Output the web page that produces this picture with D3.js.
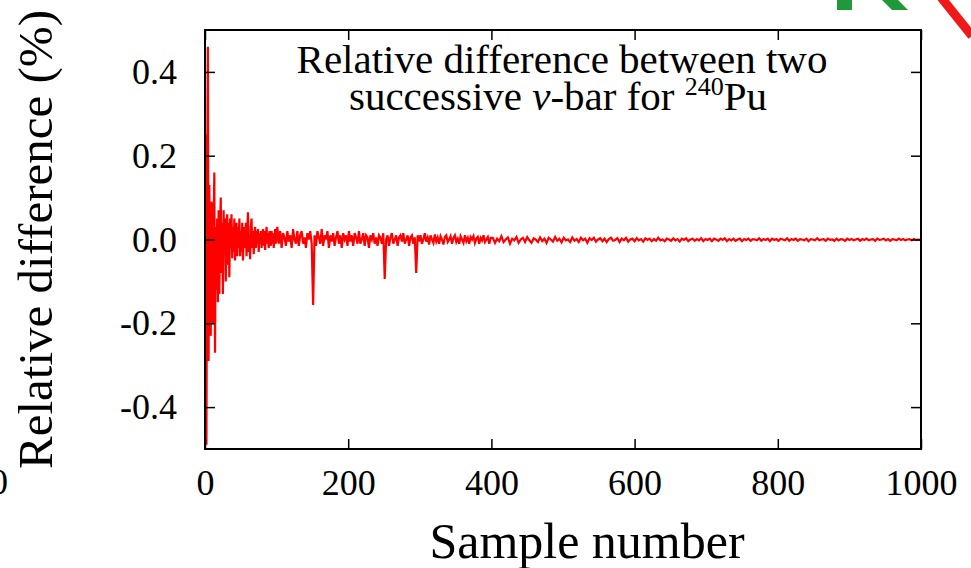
<!DOCTYPE html>
<html>
<head>
<meta charset="utf-8">
<script src="https://cdn.jsdelivr.net/npm/d3@7"></script>
<style>
    body { margin: 0; background: #fff; }
    svg { display: block; }
</style>
</head>
<body>
<div id="chart"></div>
<script>
// samples 1..100, one value per sample (%)
const earlyValues = [
    0.25, -0.49, 0.14, 0.46, -0.29, 0.13, -0.05, -0.23, 0.09, 0.08,
    -0.20, 0.02, 0.16, -0.27, 0.03, -0.12, 0.05, -0.15, 0.07, -0.13,
    0.02, 0.10, -0.08, 0.04, -0.13, 0.07, -0.03, 0.05, -0.10, 0.03,
    0.06, -0.06, 0.04, -0.09, 0.05, -0.02, 0.06, -0.045, 0.03, -0.03,
    0.05, -0.05, 0.02, 0.04, -0.04, 0.03, -0.02, 0.05, -0.04, 0.02,
    -0.03, 0.04, -0.05, 0.01, 0.03, -0.02, 0.04, -0.04, 0.02, 0.065,
    -0.03, 0.01, -0.047, 0.03, 0.05, -0.02, 0.02, -0.035, 0.01, 0.03,
    -0.02, 0.02, -0.01, 0.025, -0.03, 0.015, -0.01, 0.02, -0.02, 0.01,
    0.025, -0.015, 0.02, -0.025, 0.01, 0.03, -0.01, 0.015, -0.02, 0.02,
    0.005, -0.015, 0.02, -0.01, 0.015, -0.02, 0.01, 0.025, -0.01, 0.005
];

// samples 101..399, every 2nd sample
const midValues = [
    0.03, -0.01, 0.02, -0.02, 0.015, 0.005, -0.015, 0.02, -0.005, 0.01,
    -0.02, 0.025, 0.0, -0.01, 0.02, -0.015, 0.01, 0.02, -0.01, 0.005,
    -0.02, 0.015, 0.0, 0.02, -0.01, -0.156, 0.01, -0.015, 0.02, 0.005,
    -0.01, 0.025, -0.015, 0.01, 0.0, 0.02, -0.02, 0.01, -0.005, 0.015,
    -0.015, 0.005, 0.02, -0.01, 0.01, -0.02, 0.015, 0.0, 0.01, -0.015,
    0.02, -0.005, 0.01, -0.015, 0.015, 0.005, -0.01, 0.02, -0.01, 0.0,
    0.015, -0.015, 0.01, 0.005, -0.02, 0.01, 0.0, 0.015, -0.01, 0.005,
    -0.015, 0.01, 0.005, -0.01, 0.015, -0.094, 0.0, 0.01, -0.015, 0.005,
    0.015, -0.01, 0.0, 0.01, -0.015, 0.005, 0.01, -0.005, 0.015, -0.01,
    0.0, 0.01, -0.015, 0.005, 0.01, -0.01, 0.005, -0.08, 0.01, -0.005,
    0.01, -0.01, 0.0, 0.015, -0.005, 0.005, -0.012, 0.01, 0.0, -0.008,
    0.012, -0.005, 0.005, -0.01, 0.008, 0.0, -0.012, 0.006, 0.01, -0.006,
    0.0, 0.008, -0.01, 0.004, 0.01, -0.006, 0.002, -0.01, 0.008, 0.0,
    -0.008, 0.01, -0.004, 0.004, -0.01, 0.006, 0.0, 0.008, -0.008, 0.002,
    0.006, -0.01, 0.004, -0.002, 0.01, -0.006, 0.0, 0.006, -0.01, 0.004
];

// samples 402..999, every 3rd sample
const lateValues = [
    0.004, -0.008, 0.002, -0.004, 0.008, -0.006, 0.0, 0.005, -0.01, 0.002,
    -0.002, 0.006, -0.008, 0.0, 0.004, -0.006, 0.006, -0.002, -0.008, 0.003,
    0.0, -0.006, 0.005, -0.004, 0.002, -0.008, 0.004, 0.0, -0.005, 0.006,
    -0.003, 0.002, -0.007, 0.004, -0.002, 0.0, -0.006, 0.005, -0.003, 0.001,
    -0.006, 0.004, -0.002, 0.002, -0.008, 0.003, -0.001, 0.004, -0.005, 0.0,
    0.003, -0.004, 0.002, -0.006, 0.001, 0.004, -0.003, -0.001, 0.003, -0.006,
    0.002, -0.002, 0.004, -0.005, 0.0, 0.002, -0.004, 0.003, -0.002, 0.001,
    -0.005, 0.003, -0.001, 0.002, -0.004, 0.001, -0.003, 0.004, -0.002, 0.0,
    -0.004, 0.002, 0.0, -0.003, 0.003, -0.002, 0.001, -0.005, 0.002, -0.001,
    0.003, -0.004, 0.0, 0.002, -0.003, 0.001, -0.002, 0.003, -0.004, 0.001,
    -0.001, 0.002, -0.004, 0.002, 0.0, -0.003, 0.002, -0.001, 0.003, -0.004,
    0.001, -0.002, 0.002, -0.003, 0.0, 0.002, -0.004, 0.001, -0.001, 0.002,
    -0.003, 0.001, 0.0, -0.002, 0.003, -0.003, 0.001, -0.001, 0.002, -0.004,
    0.002, -0.001, 0.001, -0.003, 0.002, 0.0, -0.002, 0.003, -0.003, 0.001,
    -0.001, 0.002, -0.003, 0.001, 0.0, -0.002, 0.002, -0.004, 0.001, 0.0,
    -0.002, 0.003, -0.002, 0.0, 0.001, -0.003, 0.002, -0.001, 0.0, -0.003,
    0.002, -0.002, 0.001, 0.0, -0.003, 0.002, -0.001, 0.001, -0.002, 0.0,
    0.002, -0.003, 0.001, -0.001, 0.002, -0.002, 0.0, 0.001, -0.003, 0.002,
    -0.001, 0.0, 0.002, -0.002, 0.001, -0.003, 0.001, 0.0, -0.002, 0.002,
    -0.001, 0.001, -0.002, 0.0, 0.001, -0.002, 0.001, -0.001, 0.0, -0.001
];

const xTicks = [0, 200, 400, 600, 800, 1000];
const yTicks = [-0.4, -0.2, 0.0, 0.2, 0.4];
const xLabel = "Sample number";
const yLabel = "Relative difference (%)";
const titleLine1 = "Relative difference between two";

const width = 971, height = 568;
const margin = { left: 205, right: 50, top: 30, bottom: 119 };
const plotW = width - margin.left - margin.right;
const plotH = height - margin.top - margin.bottom;
const serif = '"Liberation Serif", "Times New Roman", serif';

// merge the three blocks into one series
const series = [];
earlyValues.forEach((v, i) => series.push({ n: 1 + i, v }));
midValues.forEach((v, i) => series.push({ n: 101 + 2 * i, v }));
lateValues.forEach((v, i) => series.push({ n: 402 + 3 * i, v }));

const svg = d3.select("#chart")
    .append("svg")
    .attr("width", width)
    .attr("height", height);

const g = svg.append("g")
    .attr("transform", `translate(${margin.left},${margin.top})`);

const x = d3.scaleLinear().domain([0, 1000]).range([0, plotW]);
const y = d3.scaleLinear().domain([-0.5, 0.5]).range([plotH, 0]);

// data line
const line = d3.line()
    .x(d => x(d.n))
    .y(d => y(d.v));

g.append("path")
    .datum(series)
    .attr("fill", "none")
    .attr("stroke", "#ff0000")
    .attr("stroke-width", 2.2)
    .attr("d", line);

// axes, ticks pointing inward
g.append("g")
    .attr("transform", `translate(0,${plotH})`)
    .call(d3.axisBottom(x).tickValues(xTicks).tickFormat(d => String(d)).tickSize(-10).tickPadding(20));

g.append("g")
    .call(d3.axisLeft(y).tickValues(yTicks).tickFormat(d => d.toFixed(1)).tickSize(-10).tickPadding(28));

g.append("g")
    .call(d3.axisTop(x).tickValues(xTicks).tickSize(-10).tickFormat(""));

g.append("g")
    .attr("transform", `translate(${plotW},0)`)
    .call(d3.axisRight(y).tickValues(yTicks).tickSize(-10).tickFormat(""));

g.selectAll(".domain").remove();
g.selectAll(".tick line").attr("stroke", "#000").attr("stroke-width", 1.5);
g.selectAll(".tick text")
    .style("font-family", serif)
    .attr("font-size", 36)
    .attr("fill", "#000");

// frame
g.append("rect")
    .attr("width", plotW)
    .attr("height", plotH)
    .attr("fill", "none")
    .attr("stroke", "#000")
    .attr("stroke-width", 2);

// axis titles
svg.append("text")
    .attr("x", 587)
    .attr("y", 558)
    .attr("text-anchor", "middle")
    .style("font-family", serif)
    .attr("font-size", 50)
    .text(xLabel);

svg.append("text")
    .attr("transform", `translate(52,${margin.top + plotH / 2}) rotate(-90)`)
    .attr("text-anchor", "middle")
    .style("font-family", serif)
    .attr("font-size", 49)
    .text(yLabel);

// in-plot title, two lines
svg.append("text")
    .attr("x", 562)
    .attr("y", 73)
    .attr("text-anchor", "middle")
    .style("font-family", serif)
    .attr("font-size", 41)
    .text(titleLine1);

const line2 = svg.append("text")
    .attr("x", 558)
    .attr("y", 110)
    .attr("text-anchor", "middle")
    .style("font-family", serif)
    .attr("font-size", 41);
line2.append("tspan").text("successive ");
line2.append("tspan").attr("font-style", "italic").text("ν");
line2.append("tspan").text("-bar for ");
line2.append("tspan").attr("font-size", 26).attr("dy", -15).text("240");
line2.append("tspan").attr("dy", 15).text("Pu");

// leftovers from neighbouring figure and logo at the page edges
svg.append("text")
    .attr("x", 8)
    .attr("y", 494)
    .attr("text-anchor", "end")
    .style("font-family", serif)
    .attr("font-size", 36)
    .text("0");

svg.append("rect")
    .attr("x", 837).attr("y", 0)
    .attr("width", 15).attr("height", 10)
    .attr("fill", "#1f9a3a");

svg.append("polygon")
    .attr("points", "882,0 898,0 908,10 892,10")
    .attr("fill", "#1f9a3a");

svg.append("line")
    .attr("x1", 940).attr("y1", -4)
    .attr("x2", 972).attr("y2", 36)
    .attr("stroke", "#f01818")
    .attr("stroke-width", 9);
</script>
</body>
</html>
